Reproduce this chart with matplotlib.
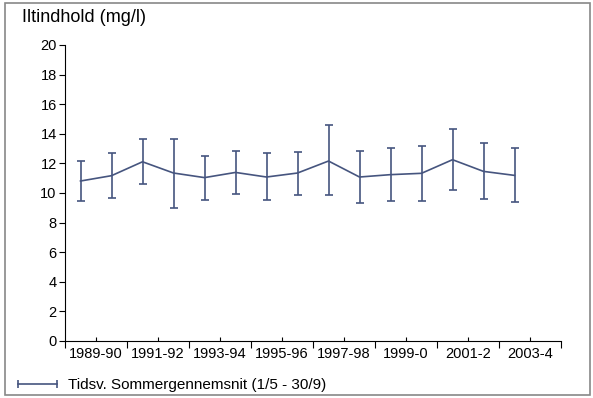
import numpy as np
import matplotlib.pyplot as plt
from matplotlib.lines import Line2D
from matplotlib.patches import Rectangle

plt.rcParams["font.family"] = ["Liberation Sans", "DejaVu Sans"]

seasons = ["1989-90", "1991-92", "1993-94", "1995-96",
           "1997-98", "1999-0", "2001-2", "2003-4"]
n_categories = 16
mean = [10.81, 11.17, 12.11, 11.35, 11.04, 11.39, 11.08, 11.35,
        12.16, 11.08, 11.24, 11.33, 12.25, 11.46, 11.19]
upper = [12.16, 12.70, 13.65, 13.67, 12.52, 12.86, 12.68, 12.79,
         14.57, 12.86, 13.06, 13.18, 14.32, 13.38, 13.04]
lower = [9.48, 9.66, 10.61, 9.01, 9.50, 9.93, 9.53, 9.86,
         9.84, 9.30, 9.46, 9.46, 10.18, 9.57, 9.37]

color = "#46557f"


def main():
    fig = plt.figure(figsize=(5.93, 3.98), dpi=100)
    ax = fig.add_axes([65 / 593, 1 - 341 / 398, 496 / 593, 296 / 398])

    x = np.arange(len(mean))
    m = np.array(mean)
    yerr = [m - np.array(lower), np.array(upper) - m]
    ax.errorbar(x, m, yerr=yerr, color=color, lw=1.2, elinewidth=1.2,
                capsize=3, capthick=1.2)

    ax.set_xlim(-0.5, n_categories - 0.5)
    ax.set_ylim(0, 20)
    ax.set_yticks(np.arange(0, 21, 2))
    ax.tick_params(axis="y", direction="out", length=4, width=0.8,
                   labelsize=10.5, pad=2)

    ax.set_xticks(np.arange(-0.5, n_categories, 2))
    ax.set_xticklabels([])
    ax.tick_params(axis="x", which="major", direction="out", length=5, width=0.8)
    ax.set_xticks(np.arange(0.5, n_categories, 2), minor=True)
    ax.set_xticklabels(seasons, minor=True)
    ax.tick_params(axis="x", which="minor", direction="in", length=3, width=0.8,
                   labelsize=10.5, pad=4)

    for side in ["top", "right"]:
        ax.spines[side].set_visible(False)
    for side in ["left", "bottom"]:
        ax.spines[side].set_linewidth(0.8)

    fig.text(22 / 593, 1 - 18 / 398, "Iltindhold (mg/l)", fontsize=13,
             va="center", ha="left")

    handle = Line2D([], [], color=color, lw=1.2, marker="|", markersize=6,
                    markeredgewidth=1.2)
    fig.legend([handle], ["Tidsv. Sommergennemsnit (1/5 - 30/9)"],
               loc="center left", bbox_to_anchor=(13 / 593, 1 - 385 / 398),
               frameon=False, numpoints=2, handlelength=3.2, fontsize=11,
               handletextpad=0.4, borderpad=0, borderaxespad=0)

    fig.patches.append(Rectangle((5 / 593, 3 / 398), 585 / 593, 392 / 398,
                                 transform=fig.transFigure, fill=False,
                                 edgecolor="#888888", lw=1.2))
    fig.savefig("out.png", dpi=100)


if __name__ == "__main__":
    main()
